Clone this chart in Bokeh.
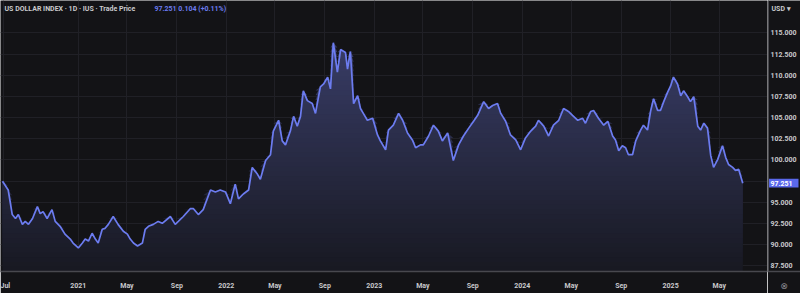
import numpy as np
import pandas as pd
from bokeh.plotting import figure
from bokeh.layouts import row
from bokeh.models import Range1d, FixedTicker, Label, ColumnDataSource
from bokeh.core.properties import value
from bokeh.embed import file_html
from bokeh.resources import INLINE

# ---------------- data ----------------
dates = [
    "2020-06-28", "2020-07-12", "2020-07-22", "2020-07-30", "2020-08-06", "2020-08-16", "2020-08-23", "2020-08-31",
    "2020-09-10", "2020-09-22", "2020-09-29", "2020-10-06", "2020-10-16", "2020-10-28", "2020-11-05", "2020-11-17",
    "2020-11-29", "2020-12-12", "2020-12-19", "2021-01-01", "2021-01-11", "2021-01-18", "2021-01-26", "2021-02-04",
    "2021-02-12", "2021-02-19", "2021-03-01", "2021-03-08", "2021-03-16", "2021-03-28", "2021-04-09", "2021-04-22",
    "2021-05-02", "2021-05-09", "2021-05-17", "2021-05-27", "2021-06-08", "2021-06-15", "2021-06-23", "2021-07-05",
    "2021-07-17", "2021-07-27", "2021-08-16", "2021-08-28", "2021-09-17", "2021-10-04", "2021-10-12", "2021-10-24",
    "2021-11-05", "2021-11-23", "2021-12-05", "2021-12-17", "2021-12-30", "2022-01-11", "2022-01-23", "2022-01-31",
    "2022-02-12", "2022-02-25", "2022-03-06", "2022-03-19", "2022-03-26", "2022-04-08", "2022-04-20", "2022-04-27",
    "2022-05-10", "2022-05-19", "2022-05-27", "2022-06-08", "2022-06-16", "2022-06-25", "2022-07-03", "2022-07-10",
    "2022-07-20", "2022-08-01", "2022-08-09", "2022-08-21", "2022-08-29", "2022-09-08", "2022-09-15", "2022-09-22",
    "2022-10-02", "2022-10-10", "2022-10-22", "2022-10-27", "2022-11-03", "2022-11-11", "2022-11-21", "2022-11-28",
    "2022-12-05", "2022-12-15", "2022-12-28", "2023-01-09", "2023-01-16", "2023-01-29", "2023-02-05", "2023-02-17",
    "2023-03-02", "2023-03-12", "2023-03-24", "2023-04-05", "2023-04-13", "2023-04-25", "2023-05-02", "2023-05-15",
    "2023-05-27", "2023-06-08", "2023-06-18", "2023-07-01", "2023-07-15", "2023-07-28", "2023-08-09", "2023-08-22",
    "2023-09-03", "2023-09-13", "2023-09-28", "2023-10-10", "2023-10-20", "2023-11-01", "2023-11-09", "2023-11-21",
    "2023-12-03", "2023-12-16", "2023-12-28", "2024-01-09", "2024-01-22", "2024-02-03", "2024-02-10", "2024-02-23",
    "2024-03-06", "2024-03-18", "2024-03-31", "2024-04-12", "2024-04-24", "2024-05-04", "2024-05-17", "2024-05-29",
    "2024-06-05", "2024-06-18", "2024-06-25", "2024-07-07", "2024-07-20", "2024-07-30", "2024-08-11", "2024-08-18",
    "2024-08-26", "2024-09-04", "2024-09-12", "2024-09-19", "2024-09-29", "2024-10-07", "2024-10-19", "2024-10-26",
    "2024-11-05", "2024-11-13", "2024-11-20", "2024-11-30", "2024-12-07", "2024-12-15", "2024-12-25", "2025-01-01",
    "2025-01-08", "2025-01-18", "2025-01-26", "2025-02-02", "2025-02-12", "2025-02-19", "2025-02-27", "2025-03-09",
    "2025-03-16", "2025-03-24", "2025-04-02", "2025-04-10", "2025-04-17", "2025-04-27", "2025-05-09", "2025-05-17",
    "2025-05-24", "2025-06-03", "2025-06-10", "2025-06-18", "2025-06-28",
]
values = [
    97.48, 96.44, 93.54, 93.07, 93.54, 92.38, 92.73, 92.38,
    93.07, 94.47, 93.65, 93.89, 93.07, 94.12, 92.73, 92.15,
    91.22, 90.64, 90.17, 89.59, 90.17, 90.64, 90.41, 91.33,
    90.64, 90.17, 91.80, 91.91, 92.38, 93.31, 92.38, 91.57,
    91.22, 90.64, 90.17, 89.83, 90.17, 91.80, 92.15, 92.38,
    92.73, 92.50, 93.31, 92.38, 93.31, 94.23, 94.23, 93.54,
    94.12, 96.44, 96.21, 96.44, 96.21, 94.81, 97.13, 95.39,
    95.97, 96.44, 99.11, 98.29, 97.71, 99.92, 100.61, 103.40,
    104.68, 102.24, 101.77, 103.40, 105.14, 103.98, 105.14, 108.16,
    107.00, 106.65, 105.49, 108.62, 108.97, 109.78, 108.39, 113.84,
    110.36, 113.03, 112.68, 110.71, 112.80, 106.65, 107.58, 106.07,
    105.49, 104.68, 104.91, 102.94, 102.24, 101.19, 103.52, 104.10,
    105.49, 104.68, 103.17, 102.36, 101.43, 101.77, 101.77, 102.82,
    104.10, 103.40, 102.24, 103.17, 99.92, 101.77, 102.82, 103.75,
    104.56, 105.26, 106.88, 106.07, 106.42, 106.65, 105.49, 104.56,
    102.94, 102.36, 101.19, 102.59, 103.40, 103.98, 104.68, 103.98,
    102.82, 104.10, 104.68, 106.07, 105.72, 105.26, 104.68, 104.91,
    104.33, 105.72, 105.84, 104.91, 104.10, 104.56, 102.82, 102.36,
    101.08, 101.66, 101.43, 100.61, 100.61, 102.24, 103.52, 104.10,
    103.52, 105.84, 107.23, 105.84, 105.84, 106.88, 108.04, 108.74,
    109.78, 108.97, 107.58, 108.16, 107.46, 106.88, 107.46, 103.98,
    103.52, 104.33, 103.75, 100.50, 99.11, 100.03, 101.66, 100.27,
    99.45, 99.11, 98.76, 98.87, 97.25,
]
y_ticks = [87.5, 90.0, 92.5, 95.0, 97.5, 100.0, 102.5, 105.0, 107.5, 110.0, 112.5, 115.0]
x_tick_dates = ["2020-07-01", "2021-01-01", "2021-05-01", "2021-09-01", "2022-01-01", "2022-05-01",
                "2022-09-01", "2023-01-01", "2023-05-01", "2023-09-01", "2024-01-01", "2024-05-01",
                "2024-09-01", "2025-01-01", "2025-05-01"]
x_tick_labels = ["Jul", "2021", "May", "Sep", "2022", "May", "Sep", "2023", "May", "Sep", "2024",
                 "May", "Sep", "2025", "May"]
title_text = "US DOLLAR INDEX · 1D · IUS · Trade Price"
quote_text = "97.251  0.104  (+0.11%)"
last_price = 97.251
currency_text = "USD ▾"
settings_icon = "⊗"

# ---------------- styling ----------------
BG = "#131316"
GRID = "#202026"
LINE = "#6c7cf0"
TAG = "#5a68ea"
TXT = "#c9c9cc"
AXLINE = "#48484e"
FONT = "Roboto"

W, H = 800, 293
FRAME_W, FRAME_H = 767, 276
AX_W, AX_H = W - FRAME_W, H - FRAME_H

x = pd.to_datetime(dates)
vals = np.array(values, dtype=float)

x_start = pd.Timestamp("2020-06-23")
x_end = pd.Timestamp("2025-08-28")
y_start, y_end = 86.81, 118.83
px_per_y = FRAME_H / (y_end - y_start)


def style_axis(ax, size="7px", color=TXT):
    ax.major_tick_line_color = None
    ax.minor_tick_line_color = None
    ax.axis_line_color = AXLINE
    ax.axis_line_width = 1.5
    ax.major_label_text_color = color
    ax.major_label_text_font = FONT
    ax.major_label_text_font_size = size
    ax.major_label_text_font_style = "bold"
    ax.major_label_standoff = 4


# ---------------- main chart ----------------
p = figure(width=FRAME_W, height=H, x_axis_type="datetime", y_axis_location=None,
           output_backend="svg", toolbar_location=None,
           x_range=Range1d(x_start, x_end), y_range=Range1d(y_start, y_end))
p.min_border_left = 0
p.min_border_top = 0
p.min_border_right = 0
p.min_border_bottom = AX_H
p.background_fill_color = BG
p.border_fill_color = BG
p.outline_line_color = None

tick_ms = [int(pd.Timestamp(d).value // 10**6) for d in x_tick_dates]
xa = p.xaxis[0]
xa.ticker = FixedTicker(ticks=tick_ms)
xa.major_label_overrides = {t: lab for t, lab in zip(tick_ms, x_tick_labels)}
style_axis(xa)

p.xgrid.ticker = FixedTicker(ticks=tick_ms)
p.ygrid.ticker = FixedTicker(ticks=y_ticks)
p.xgrid.grid_line_color = GRID
p.ygrid.grid_line_color = GRID

# vertical gradient fill under the line (bands drawn bottom-up)
n_bands = 48
levels = np.linspace(y_start, vals.max(), n_bands + 1)[:-1]
c_lo = np.array([0x18, 0x19, 0x22], dtype=float)
c_hi = np.array([0x38, 0x3c, 0x66], dtype=float)
for k, lv in enumerate(levels):
    t = k / (n_bands - 1)
    c = c_lo + (c_hi - c_lo) * t
    col = "#%02x%02x%02x" % tuple(int(round(v)) for v in c)
    p.varea(x=x, y1=np.full_like(vals, lv), y2=np.maximum(vals, lv), fill_color=col)

p.line(x, vals, line_color=LINE, line_width=1.7)

title_y = y_end - 9 / px_per_y
p.add_layout(Label(x=4, y=title_y, x_units="screen", y_units="data", text=title_text,
                   text_font=FONT, text_font_size="7px", text_color=TXT, text_font_style="bold",
                   text_baseline="middle"))
p.add_layout(Label(x=154, y=title_y, x_units="screen", y_units="data", text=quote_text,
                   text_font=FONT, text_font_size="7px", text_color=LINE, text_font_style="bold",
                   text_baseline="middle"))

# ---------------- price scale panel (right) ----------------
q = figure(width=AX_W, height=H, y_axis_location=None,
           output_backend="svg", toolbar_location=None,
           x_range=Range1d(0, AX_W), y_range=Range1d(y_start, y_end))
q.min_border_left = q.min_border_right = q.min_border_top = 0
q.min_border_bottom = AX_H
q.background_fill_color = BG
q.border_fill_color = BG
q.outline_line_color = None
q.xgrid.visible = False
q.ygrid.visible = False

icon_x = AX_W / 2
qa = q.xaxis[0]
qa.ticker = FixedTicker(ticks=[icon_x])
qa.major_label_overrides = {icon_x: settings_icon}
style_axis(qa, size="9px", color="#8a8a90")
qa.major_label_text_font = "DejaVu Sans"
qa.major_label_text_font_style = "normal"
qa.major_label_standoff = 3

shown_ticks = [t for t in y_ticks if abs(t - last_price) * px_per_y > 8]
src = ColumnDataSource(dict(y=shown_ticks, label=["%.3f" % t for t in shown_ticks]))
q.text(x=3, y="y", text="label", source=src, text_font=value(FONT), text_font_size="7px",
       text_font_style="bold", text_color=TXT, text_baseline="middle", text_align="left")

# last price tag
tag_h = 9 / px_per_y
q.quad(left=1.5, right=31, bottom=last_price - tag_h / 2, top=last_price + tag_h / 2,
       fill_color=TAG, line_color=None)
q.text(x=[3], y=[last_price], text=["%.3f" % last_price], text_font=value(FONT), text_font_size="7px",
       text_font_style="bold", text_color="#ffffff", text_baseline="middle", text_align="left")

# scale border line
q.segment(x0=0.75, x1=0.75, y0=y_start, y1=y_end, line_color=AXLINE, line_width=1.5)

q.add_layout(Label(x=4, y=title_y, x_units="screen", y_units="data", text=currency_text,
                   text_font=FONT, text_font_size="7px", text_color=TXT, text_font_style="bold",
                   text_baseline="middle"))

layout = row(p, q, spacing=0)
open("out.html", "w").write(file_html(layout, INLINE))
